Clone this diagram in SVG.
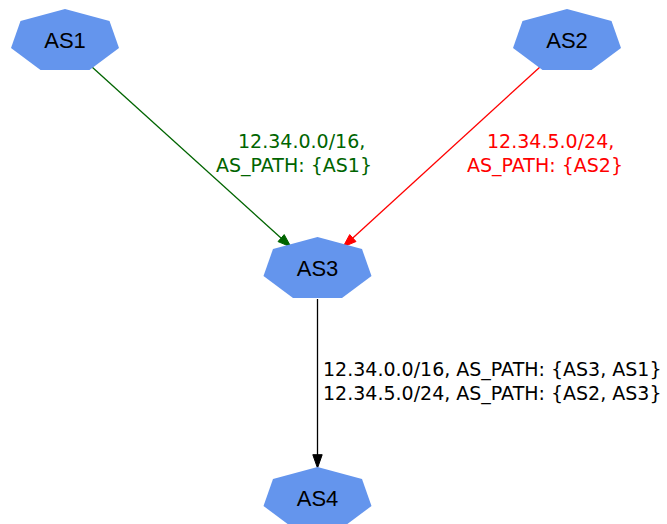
<svg xmlns="http://www.w3.org/2000/svg" width="667" height="524" viewBox="0 0 667 524">
<style>
.node polygon{fill:#6495ED;stroke:none}
.node text{font-family:"Liberation Sans",Arial,sans-serif;font-size:22px;fill:#000;text-anchor:middle}
.lbl{font-family:"DejaVu Sans",Verdana,sans-serif;font-size:19px}
.edge line{stroke-width:1.3}
</style>
<defs>
<polygon id="sept" points="0,-31 44.5,-19 54,8 24.5,30 -24.5,30 -54,8 -44.5,-19"/>
</defs>
<rect width="667" height="524" fill="#fff"/>
<g id="edges">
<g class="edge" id="e1">
<line x1="92" y1="67" x2="281" y2="238" stroke="#006400"/>
<polygon points="291,247 278,241.6 284.2,234.6" fill="#006400" stroke="#006400"/>
<text class="lbl" fill="#006400" x="238" y="148">12.34.0.0/16,</text>
<text class="lbl" fill="#006400" x="216" y="172">AS_PATH: {AS1}</text>
</g>
<g class="edge" id="e2">
<line x1="540" y1="67" x2="352.8" y2="238" stroke="#ff0000"/>
<polygon points="343,247 356,241.5 349.7,234.6" fill="#ff0000" stroke="#ff0000"/>
<text class="lbl" fill="#ff0000" x="487" y="148">12.34.5.0/24,</text>
<text class="lbl" fill="#ff0000" x="467" y="172">AS_PATH: {AS2}</text>
</g>
<g class="edge" id="e3">
<line x1="317.5" y1="299" x2="317.5" y2="455" stroke="#000"/>
<polygon points="317.5,468 312.8,454.7 322.2,454.7" fill="#000" stroke="#000"/>
<text class="lbl" fill="#000" x="323" y="376">12.34.0.0/16, AS_PATH: {AS3, AS1}</text>
<text class="lbl" fill="#000" x="323" y="400">12.34.5.0/24, AS_PATH: {AS2, AS3}</text>
</g>
</g>
<g class="node" id="AS1"><use href="#sept" x="65" y="40" fill="#6495ED"/><text x="65" y="48">AS1</text></g>
<g class="node" id="AS2"><use href="#sept" x="567" y="40" fill="#6495ED"/><text x="567" y="48">AS2</text></g>
<g class="node" id="AS3"><use href="#sept" x="317.5" y="268" fill="#6495ED"/><text x="317.5" y="276">AS3</text></g>
<g class="node" id="AS4"><use href="#sept" x="317.5" y="498" fill="#6495ED"/><text x="317.5" y="506">AS4</text></g>
</svg>
